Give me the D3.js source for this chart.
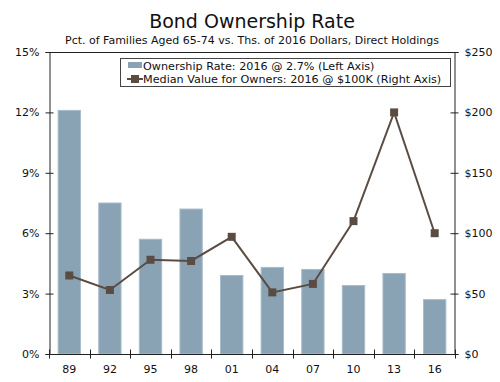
<!DOCTYPE html>
<html><head><meta charset="utf-8">
<script src="https://cdn.jsdelivr.net/npm/d3@7"></script>
<style>body{margin:0;background:#fff}svg{display:block;font-family:"DejaVu Sans",Verdana,sans-serif}</style>
</head><body><svg id="c" width="500" height="382"></svg>
<script>
const years = ["89","92","95","98","01","04","07","10","13","16"];
const ownershipRate = [12.1, 7.5, 5.7, 7.2, 3.9, 4.3, 4.2, 3.4, 4.0, 2.7];
const medianValue = [65, 53, 78, 77, 97, 51, 58, 110, 200, 100];
const leftTicks = [0, 3, 6, 9, 12, 15];
const rightTicks = [0, 50, 100, 150, 200, 250];

const svg = d3.select("#c");
const L = 49, R = 455, T = 52, B = 354;
const x = d3.scaleBand().domain(years).range([L, R]).paddingInner(0.45).paddingOuter(0.225);
const xb = d3.scaleBand().domain(years).range([L, R]);
const yL = d3.scaleLinear().domain([0, 15]).range([B, T]);
const yR = d3.scaleLinear().domain([0, 250]).range([B, T]);
const ink = "#222";

svg.append("text").attr("x", 252).attr("y", 28).attr("text-anchor", "middle")
  .attr("font-size", 19).attr("fill", "#111").text("Bond Ownership Rate");
svg.append("text").attr("x", 252).attr("y", 44).attr("text-anchor", "middle")
  .attr("font-size", 11).attr("fill", "#111").text("Pct. of Families Aged 65-74 vs. Ths. of 2016 Dollars, Direct Holdings");

// bars
svg.append("g").selectAll("rect").data(years).join("rect")
  .attr("x", d => x(d)).attr("width", x.bandwidth())
  .attr("y", (d, i) => yL(ownershipRate[i])).attr("height", (d, i) => B - yL(ownershipRate[i]))
  .attr("fill", "#89a3b5").attr("stroke", "#a9bccb").attr("stroke-width", 1);

// frame top
svg.append("line").attr("x1", L).attr("x2", R).attr("y1", T + 0.5).attr("y2", T + 0.5).attr("stroke", ink);

// left axis
const gl = svg.append("g").attr("transform", `translate(${L + 0.5},0)`)
  .call(d3.axisLeft(yL).tickValues(leftTicks).tickFormat(d => d + "%").tickSize(4).tickPadding(6));
gl.selectAll(".tick line").attr("x2", -4).attr("x1", 4);
// right axis
const gr = svg.append("g").attr("transform", `translate(${R - 0.5},0)`)
  .call(d3.axisRight(yR).tickValues(rightTicks).tickFormat(d => "$" + d).tickSize(4).tickPadding(6));
gr.selectAll(".tick line").attr("x1", -4).attr("x2", 4);
// bottom axis
const gb = svg.append("g").attr("transform", `translate(0,${B + 0.5})`)
  .call(d3.axisBottom(x).tickSize(0).tickPadding(11));
gb.selectAll(".tick line").remove();
const bounds = years.map(d => xb(d)).concat([R]);
gb.selectAll("line.bt").data(bounds).join("line").attr("class", "bt")
  .attr("x1", d => Math.round(d) + 0.5).attr("x2", d => Math.round(d) + 0.5).attr("y1", -5).attr("y2", 4).attr("stroke", ink);

[gl, gr, gb].forEach(g => {
  g.selectAll(".domain").attr("stroke", ink);
  g.selectAll(".tick line").attr("stroke", ink);
  g.selectAll("text").attr("font-size", 11).attr("fill", "#111").attr("font-family", "DejaVu Sans, Verdana, sans-serif");
});
gb.selectAll(".domain").attr("d", `M${L},0H${R}`);

// line
const lineCol = "#5b4c43";
const cx = d => x(d) + x.bandwidth() / 2;
svg.append("path").datum(years).attr("fill", "none").attr("stroke", lineCol).attr("stroke-width", 2)
  .attr("d", d3.line().x(d => cx(d)).y((d, i) => yR(medianValue[i])));
svg.append("g").selectAll("rect").data(years).join("rect")
  .attr("x", d => cx(d) - 4).attr("y", (d, i) => yR(medianValue[i]) - 4)
  .attr("width", 8).attr("height", 8).attr("fill", lineCol);

// legend
const lg = svg.append("g");
lg.append("rect").attr("x", 120.5).attr("y", 58.5).attr("width", 330).attr("height", 28)
  .attr("fill", "#fff").attr("stroke", "#444");
lg.append("rect").attr("x", 128).attr("y", 62).attr("width", 14).attr("height", 6).attr("fill", "#89a3b5");
lg.append("line").attr("x1", 127).attr("x2", 143).attr("y1", 79).attr("y2", 79).attr("stroke", lineCol).attr("stroke-width", 2);
lg.append("rect").attr("x", 131).attr("y", 75).attr("width", 8).attr("height", 8).attr("fill", lineCol);
lg.append("text").attr("x", 143).attr("y", 70).attr("font-size", 11.2).attr("fill", "#111").text("Ownership Rate: 2016 @ 2.7% (Left Axis)");
lg.append("text").attr("x", 143).attr("y", 83).attr("font-size", 11.2).attr("fill", "#111").text("Median Value for Owners: 2016 @ $100K (Right Axis)");
</script></body></html>
